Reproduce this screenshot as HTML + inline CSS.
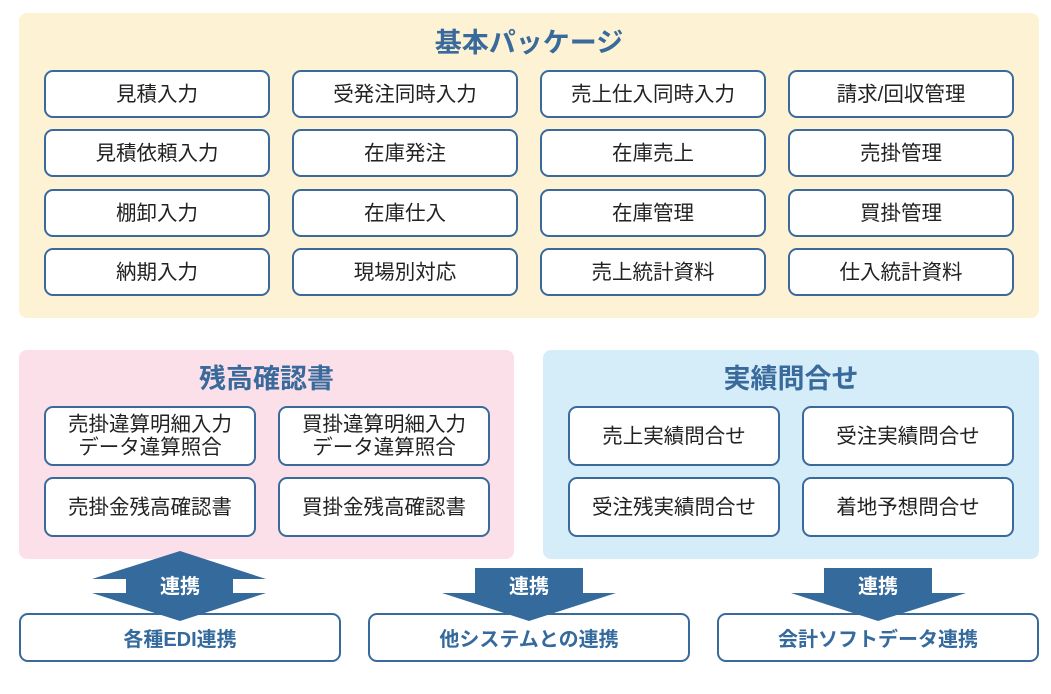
<!DOCTYPE html>
<html><head><meta charset="utf-8"><style>
body{margin:0;width:1051px;height:694px;background:#fff;position:relative;overflow:hidden;font-family:"Liberation Sans","Noto Sans CJK JP",sans-serif;}
.p{position:absolute;border-radius:8px;}
.t{position:absolute;color:#3a6a9c;font-weight:bold;font-size:27px;line-height:32px;text-align:center;}
.b{position:absolute;box-sizing:border-box;border:2px solid #3a6a9c;border-radius:9px;background:#fff;display:flex;align-items:center;justify-content:center;text-align:center;color:#222;font-size:20.5px;line-height:23px;}
.c{position:absolute;box-sizing:border-box;border:2px solid #3a6a9c;border-radius:9px;background:#fff;display:flex;align-items:center;justify-content:center;color:#356a9c;font-weight:bold;font-size:20px;}
.a{position:absolute;color:#fff;font-weight:bold;font-size:20px;text-align:center;}
</style></head><body>
<div class="p" style="left:19px;top:13px;width:1020px;height:305px;background:#fdf3d4"></div>
<div class="t" style="left:19px;top:27px;width:1020px">基本パッケージ</div>
<div class="b" style="left:44px;top:70px;width:226px;height:48px">見積入力</div>
<div class="b" style="left:292px;top:70px;width:226px;height:48px">受発注同時入力</div>
<div class="b" style="left:540px;top:70px;width:226px;height:48px">売上仕入同時入力</div>
<div class="b" style="left:788px;top:70px;width:226px;height:48px">請求/回収管理</div>
<div class="b" style="left:44px;top:129px;width:226px;height:48px">見積依頼入力</div>
<div class="b" style="left:292px;top:129px;width:226px;height:48px">在庫発注</div>
<div class="b" style="left:540px;top:129px;width:226px;height:48px">在庫売上</div>
<div class="b" style="left:788px;top:129px;width:226px;height:48px">売掛管理</div>
<div class="b" style="left:44px;top:189px;width:226px;height:48px">棚卸入力</div>
<div class="b" style="left:292px;top:189px;width:226px;height:48px">在庫仕入</div>
<div class="b" style="left:540px;top:189px;width:226px;height:48px">在庫管理</div>
<div class="b" style="left:788px;top:189px;width:226px;height:48px">買掛管理</div>
<div class="b" style="left:44px;top:248px;width:226px;height:48px">納期入力</div>
<div class="b" style="left:292px;top:248px;width:226px;height:48px">現場別対応</div>
<div class="b" style="left:540px;top:248px;width:226px;height:48px">売上統計資料</div>
<div class="b" style="left:788px;top:248px;width:226px;height:48px">仕入統計資料</div>

<div class="p" style="left:19px;top:350px;width:495px;height:209px;background:#fbe0ea"></div>
<div class="t" style="left:19px;top:363px;width:495px">残高確認書</div>
<div class="b" style="left:44px;top:406px;width:212px;height:60px">売掛違算明細入力<br>データ違算照合</div>
<div class="b" style="left:278px;top:406px;width:212px;height:60px">買掛違算明細入力<br>データ違算照合</div>
<div class="b" style="left:44px;top:477px;width:212px;height:60px">売掛金残高確認書</div>
<div class="b" style="left:278px;top:477px;width:212px;height:60px">買掛金残高確認書</div>

<div class="p" style="left:543px;top:350px;width:496px;height:209px;background:#d5edf9"></div>
<div class="t" style="left:543px;top:363px;width:496px">実績問合せ</div>
<div class="b" style="left:568px;top:406px;width:212px;height:60px">売上実績問合せ</div>
<div class="b" style="left:802px;top:406px;width:212px;height:60px">受注実績問合せ</div>
<div class="b" style="left:568px;top:477px;width:212px;height:60px">受注残実績問合せ</div>
<div class="b" style="left:802px;top:477px;width:212px;height:60px">着地予想問合せ</div>

<div class="c" style="left:19px;top:613px;width:322px;height:49px">各種EDI連携</div>
<div class="c" style="left:368px;top:613px;width:322px;height:49px">他システムとの連携</div>
<div class="c" style="left:717px;top:613px;width:322px;height:49px">会計ソフトデータ連携</div>

<svg style="position:absolute;left:0;top:0" width="1051" height="694">
<g fill="#356a9c">
<polygon points="180,551 266,579 233,579 233,593 266,593 180,621 92,593 126,593 126,579 92,579"/>
<polygon points="475,568 583,568 583,593 616,593 529,621 442,593 475,593"/>
<polygon points="824,568 932,568 932,593 966,593 878,621 791,593 824,593"/>
</g></svg>
<div class="a" style="left:130px;top:570px;width:100px">連携</div>
<div class="a" style="left:479px;top:570px;width:100px">連携</div>
<div class="a" style="left:828px;top:570px;width:100px">連携</div>
</body></html>
